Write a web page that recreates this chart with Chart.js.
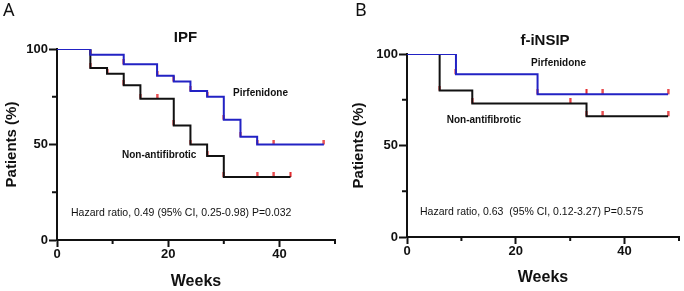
<!DOCTYPE html>
<html>
<head>
<meta charset="utf-8">
<script src="https://cdn.jsdelivr.net/npm/chart.js@4/dist/chart.umd.min.js"></script>
<style>
  html, body { margin: 0; padding: 0; background: #fff; }
  #wrap { position: relative; width: 684px; height: 291px; }
  canvas { position: absolute; top: 0; }
  #chartA { left: 0; }
  #chartB { left: 340px; }
</style>
</head>
<body>
<div id="wrap">
  <canvas id="chartA" width="340" height="291"></canvas>
  <canvas id="chartB" width="344" height="291"></canvas>
</div>
<script>
// IPF panel
const ipfPirfWeeks = [0, 6, 12, 18, 21, 24, 27, 30, 33, 36, 48];
const ipfPirfPct = [100, 97, 92, 86, 83, 78, 75, 63, 54, 50, 50];
const ipfPirfCensored = [39, 48];
const ipfNonWeeks = [0, 6, 9, 12, 15, 21, 24, 27, 30, 42];
const ipfNonPct = [100, 90, 87, 81, 74, 60, 50, 44, 33, 33];
const ipfNonCensored = [18, 36, 39, 42];

// f-iNSIP panel
const nsipPirfWeeks = [0, 9, 24, 48];
const nsipPirfPct = [100, 89, 78, 78];
const nsipPirfCensored = [33, 36, 48];
const nsipNonWeeks = [0, 6, 12, 33, 48];
const nsipNonPct = [100, 80, 73, 66, 66];
const nsipNonCensored = [30, 36, 48];

// axes
const xTickValues = [0, 20, 40];
const xMinorTicks = [10, 30, 50];
const yTickValues = [0, 50, 100];
const yMinorTicks = [25, 75];

const BLUE = '#2222c4';
const BLACK = '#111';
const RED = '#e3262b';
const SANS = '"Liberation Sans", Arial, sans-serif';

// little red tick, drawn above the point
function makeTick() {
  const c = document.createElement('canvas');
  c.width = 3; c.height = 10;
  const g = c.getContext('2d');
  g.fillStyle = RED;
  g.fillRect(0.5, 0, 2, 5);
  return c;
}
const tickImg = makeTick();

function pctAt(weeks, pct, t) {
  let v = pct[0];
  for (let i = 0; i < weeks.length; i++) if (weeks[i] <= t) v = pct[i];
  return v;
}

function curve(weeks, pct, color) {
  return {
    data: weeks.map((w, i) => ({ x: w, y: pct[i] })),
    borderColor: color, borderWidth: 2, stepped: 'before',
    pointRadius: 0, fill: false
  };
}

function marks(weeks, pct, censored) {
  const pts = [];
  for (let i = 1; i < weeks.length - 1; i++) pts.push({ x: weeks[i], y: pct[i] });
  censored.forEach(c => pts.push({ x: c, y: pctAt(weeks, pct, c) }));
  return { data: pts, showLine: false, pointStyle: tickImg, pointRadius: 4, borderColor: RED };
}

const panelPlugin = {
  id: 'panelText',
  afterDraw(chart, args, opts) {
    const ctx = chart.ctx;
    const { left, bottom } = chart.chartArea;
    const sx = chart.scales.x, sy = chart.scales.y;
    ctx.save();
    ctx.strokeStyle = BLACK;
    ctx.lineWidth = 2;
    xMinorTicks.forEach(v => {
      const px = sx.getPixelForValue(v);
      ctx.beginPath(); ctx.moveTo(px, bottom); ctx.lineTo(px, bottom + 4); ctx.stroke();
    });
    yMinorTicks.forEach(v => {
      const py = sy.getPixelForValue(v);
      ctx.beginPath(); ctx.moveTo(left, py); ctx.lineTo(left - 5, py); ctx.stroke();
    });
    ctx.fillStyle = BLACK;
    ctx.textBaseline = 'middle';
    opts.texts.forEach(t => {
      ctx.font = t.font;
      ctx.textAlign = t.align || 'left';
      ctx.fillText(t.text, t.x, t.y);
    });
    ctx.restore();
  }
};

function buildChart(id, series, cfg) {
  const datasets = [];
  series.forEach(s => datasets.push(curve(s.weeks, s.pct, s.color)));
  series.forEach(s => datasets.push(marks(s.weeks, s.pct, s.censored)));
  const grid = { drawOnChartArea: false, drawTicks: true, tickLength: 8, tickColor: BLACK, tickWidth: 2 };
  const border = { display: true, color: BLACK, width: 2 };
  return new Chart(document.getElementById(id), {
    type: 'line',
    data: { datasets },
    options: {
      responsive: false,
      animation: false,
      layout: { padding: { top: cfg.top, right: cfg.right, bottom: 0, left: 0 } },
      plugins: {
        legend: { display: false },
        tooltip: { enabled: false },
        panelText: { texts: cfg.texts }
      },
      scales: {
        x: {
          type: 'linear', min: 0, max: 50,
          afterBuildTicks: s => { s.ticks = xTickValues.map(v => ({ value: v })); },
          afterFit: s => { s.height = cfg.xh; },
          grid: { ...grid, tickLength: 7 }, border,
          ticks: { color: BLACK, padding: 0, maxRotation: 0, autoSkip: false,
                   font: { family: SANS, size: 13, weight: 'bold' } },
          title: { display: true, text: 'Weeks', color: BLACK,
                   padding: { top: 0, bottom: cfg.xtb },
                   font: { family: SANS, size: 16, weight: 'bold' } }
        },
        y: {
          type: 'linear', min: 0, max: 100,
          afterBuildTicks: s => { s.ticks = yTickValues.map(v => ({ value: v })); },
          afterFit: s => { s.width = cfg.yw; },
          grid, border,
          ticks: { color: BLACK, padding: 1,
                   font: { family: SANS, size: 13, weight: 'bold' } },
          title: { display: true, text: 'Patients (%)', color: BLACK,
                   padding: { top: cfg.ytp, bottom: 0 },
                   font: { family: SANS, size: 15, weight: 'bold' } }
        }
      }
    },
    plugins: [panelPlugin]
  });
}

const boldSmall = 'bold 10px ' + SANS;
const plain = '10.5px ' + SANS;

buildChart('chartA', [
  { weeks: ipfPirfWeeks, pct: ipfPirfPct, censored: ipfPirfCensored, color: BLUE },
  { weeks: ipfNonWeeks, pct: ipfNonPct, censored: ipfNonCensored, color: BLACK }
], {
  top: 49, right: 0, xh: 51, yw: 57, xtb: 0, ytp: 3,
  texts: [
    { text: 'A', x: 3, y: 11, font: '18px "Noto Sans", sans-serif' },
    { text: 'IPF', x: 185.5, y: 38, font: 'bold 15px ' + SANS, align: 'center' },
    { text: 'Pirfenidone', x: 233, y: 93, font: boldSmall },
    { text: 'Non-antifibrotic', x: 122, y: 155, font: boldSmall },
    { text: 'Hazard ratio, 0.49 (95% CI, 0.25-0.98) P=0.032', x: 71, y: 213, font: plain }
  ]
});

buildChart('chartB', [
  { weeks: nsipPirfWeeks, pct: nsipPirfPct, censored: nsipPirfCensored, color: BLUE },
  { weeks: nsipNonWeeks, pct: nsipNonPct, censored: nsipNonCensored, color: BLACK }
], {
  top: 54, right: 3, xh: 54, yw: 67, xtb: 4, ytp: 10,
  texts: [
    { text: 'B', x: 15, y: 11, font: '18px "Noto Sans", sans-serif' },
    { text: 'f-iNSIP', x: 205, y: 41, font: 'bold 15px ' + SANS, align: 'center' },
    { text: 'Pirfenidone', x: 191, y: 63, font: boldSmall },
    { text: 'Non-antifibrotic', x: 106.7, y: 120, font: boldSmall },
    { text: 'Hazard ratio, 0.63  (95% CI, 0.12-3.27) P=0.575', x: 80, y: 212, font: plain }
  ]
});
</script>
</body>
</html>
